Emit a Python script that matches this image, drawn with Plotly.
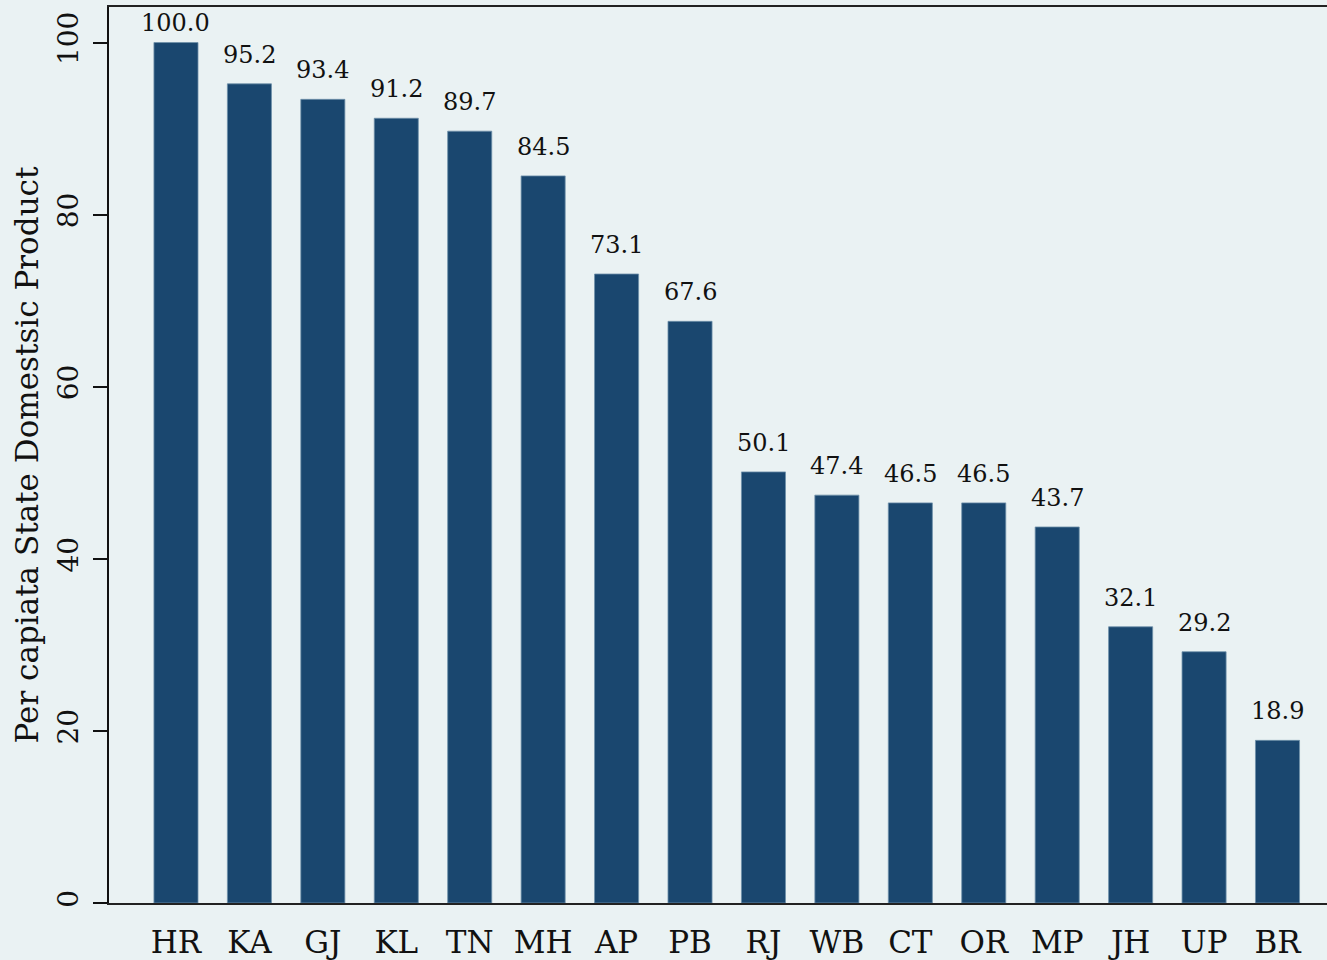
import plotly.graph_objects as go

states = ["HR", "KA", "GJ", "KL", "TN", "MH", "AP", "PB", "RJ", "WB", "CT", "OR", "MP", "JH", "UP", "BR"]
values = [100.0, 95.2, 93.4, 91.2, 89.7, 84.5, 73.1, 67.6, 50.1, 47.4, 46.5, 46.5, 43.7, 32.1, 29.2, 18.9]
y_ticks = [0, 20, 40, 60, 80, 100]

BG = "#eaf2f3"
BAR = "#1a476f"
FONT = "DejaVu Serif"

Y_MAX = 104.13
PLOT_H = 960 - 7 - 57
PPU = PLOT_H / Y_MAX

fig = go.Figure(go.Bar(
    x=list(range(len(states))),
    y=values,
    marker=dict(color=BAR, line=dict(color="#6f90aa", width=0.8)),
    width=0.6,
    hoverinfo="x+y",
))

for i, v in enumerate(values):
    room = (Y_MAX - v) * PPU - 32
    fig.add_annotation(
        x=i, y=v, text=f"{v:.1f}", showarrow=False,
        xanchor="center", yanchor="bottom",
        yshift=max(2, min(13, room)),
        font=dict(family=FONT, size=24, color="#111"),
    )

fig.update_layout(
    width=1327, height=960,
    paper_bgcolor=BG, plot_bgcolor=BG,
    margin=dict(l=109, r=0, t=7, b=57, autoexpand=False),
    showlegend=False,
    font=dict(family=FONT, color="#111"),
    xaxis=dict(
        range=[-0.912, 15.674],
        automargin=False,
        tickmode="array", tickvals=list(range(len(states))), ticktext=states,
        tickfont=dict(family=FONT, size=31, color="#111"),
        showgrid=False, zeroline=False,
        showline=True, linecolor="#222", linewidth=2, mirror=True,
        ticks="", ticklabelstandoff=11,
    ),
    yaxis=dict(
        range=[0, Y_MAX],
        automargin=False,
        tickmode="array", tickvals=y_ticks,
        tickangle=-90,
        tickfont=dict(family=FONT, size=28, color="#111"),
        ticks="outside", ticklen=14, tickwidth=2, tickcolor="#111",
        ticklabelstandoff=4,
        showgrid=False, zeroline=False,
        showline=True, linecolor="#111", linewidth=2,
        title=dict(text="Per capiata State Domestsic Product",
                   font=dict(family=FONT, size=31, color="#111"), standoff=4),
    ),
)

fig.write_html(
    "out.html",
    config={"displayModeBar": False},
    post_script="document.body.style.margin='0px';document.body.style.background='%s';" % BG,
)
